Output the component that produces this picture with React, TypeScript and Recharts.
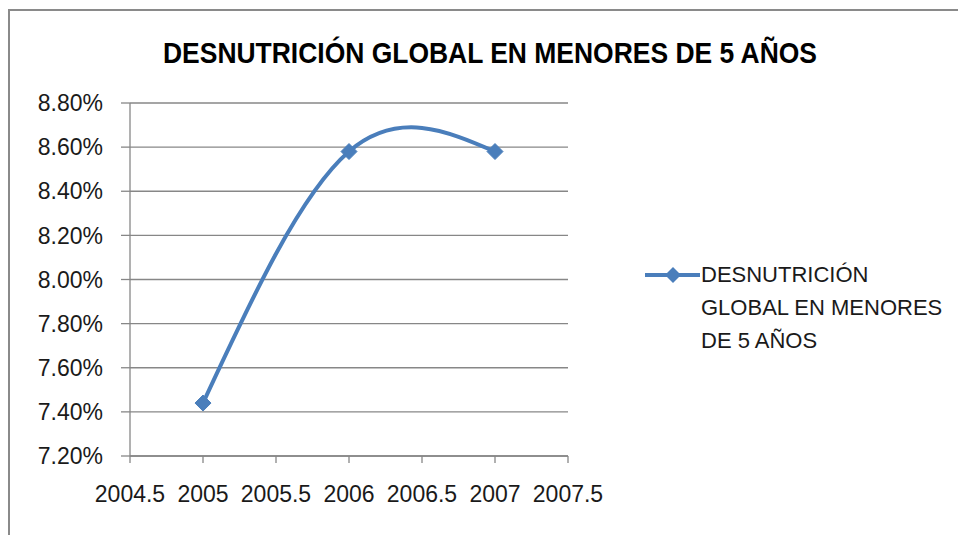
import { CartesianGrid, Legend, Line, LineChart, XAxis, YAxis } from "recharts"

const years = [2005, 2006, 2007]
const desnutricion = [0.0744, 0.0858, 0.0858]
const xTicks = [2004.5, 2005, 2005.5, 2006, 2006.5, 2007, 2007.5]
const yTicks = [0.072, 0.074, 0.076, 0.078, 0.08, 0.082, 0.084, 0.086, 0.088]
const seriesName = "DESNUTRICIÓN GLOBAL EN MENORES DE 5 AÑOS"
const title = "DESNUTRICIÓN GLOBAL EN MENORES DE 5 AÑOS"

const data = years.map((year, i) => ({ year, value: desnutricion[i] }))

const BLUE = "#4A7EBB"
const GRID = "#878787"
const FONT = "'Liberation Sans', Arial, sans-serif"

const Diamond = (props: any) => {
  const { cx, cy } = props
  if (cx == null || cy == null) return null
  const r = 8
  return (
    <polygon
      points={`${cx},${cy - r} ${cx + r},${cy} ${cx},${cy + r} ${cx - r},${cy}`}
      fill={BLUE}
      stroke={BLUE}
    />
  )
}

const LegendBox = () => (
  <div style={{ display: "flex", alignItems: "flex-start", fontFamily: FONT }}>
    <svg width={60} height={33} style={{ flex: "none" }}>
      <line x1={4} y1={17} x2={59} y2={17} stroke={BLUE} strokeWidth={4} />
      <polygon points="32,9 40,17 32,25 24,17" fill={BLUE} />
    </svg>
    <div
      style={{
        width: 245,
        fontSize: 22,
        lineHeight: "33px",
        color: "#1a1a1a",
      }}
    >
      {seriesName}
    </div>
  </div>
)

export default function App() {
  return (
    <div
      style={{
        position: "absolute",
        left: 0,
        top: 0,
        width: 958,
        height: 535,
        background: "#fff",
        overflow: "hidden",
      }}
    >
      <div
        style={{
          position: "absolute",
          left: 8,
          top: 9,
          width: 1000,
          height: 600,
          border: "2px solid #8a8a8a",
        }}
      />
      <svg
        width={958}
        height={80}
        style={{ position: "absolute", left: 0, top: 0 }}
      >
        <text
          x={490}
          y={63}
          textAnchor="middle"
          textLength={654}
          lengthAdjust="spacingAndGlyphs"
          fontFamily={FONT}
          fontWeight="bold"
          fontSize={30}
          fill="#000"
        >
          {title}
        </text>
      </svg>
      <div style={{ position: "absolute", left: 0, top: 0 }}>
        <LineChart
          width={958}
          height={535}
          data={data}
          margin={{ top: 103, right: 390, bottom: 34, left: 8 }}
        >
          <CartesianGrid horizontal vertical={false} stroke={GRID} strokeWidth={1.3} />
          <XAxis
            dataKey="year"
            type="number"
            domain={[2004.5, 2007.5]}
            ticks={xTicks}
            interval={0}
            height={45}
            stroke={GRID}
            strokeWidth={1.3}
            tickSize={7}
            tickMargin={23}
            tick={{ fill: "#1a1a1a", fontSize: 23, fontFamily: FONT }}
          />
          <YAxis
            type="number"
            domain={[0.072, 0.088]}
            ticks={yTicks}
            interval={0}
            width={122}
            stroke={GRID}
            strokeWidth={1.3}
            tickSize={9}
            tickMargin={18}
            tickFormatter={(v: number) => `${(v * 100).toFixed(2)}%`}
            tick={{ fill: "#1a1a1a", fontSize: 23, fontFamily: FONT }}
          />
          <Legend
            layout="horizontal"
            align="center"
            verticalAlign="middle"
            content={<LegendBox />}
            wrapperStyle={{ position: "absolute", left: 641, top: 258, width: 320 }}
          />
          <Line
            type="natural"
            dataKey="value"
            name={seriesName}
            stroke={BLUE}
            strokeWidth={4}
            dot={<Diamond />}
            activeDot={false}
            isAnimationActive={false}
          />
        </LineChart>
      </div>
    </div>
  )
}
